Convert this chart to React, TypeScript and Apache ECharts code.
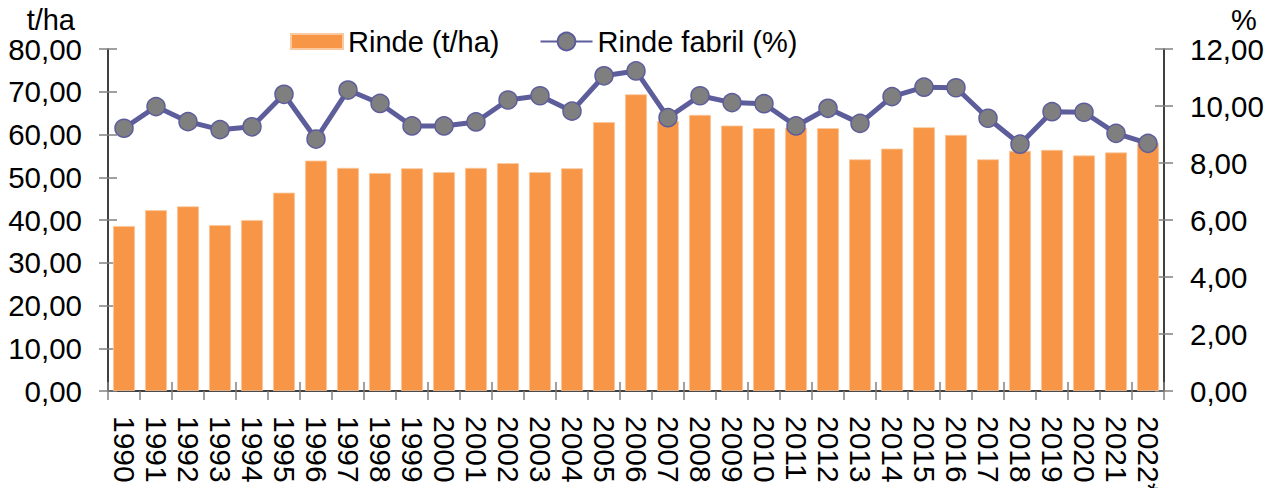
import React, { useEffect, useRef } from "react";
import * as echarts from "echarts";

const years = [
  "1990", "1991", "1992", "1993", "1994", "1995", "1996", "1997", "1998", "1999",
  "2000", "2001", "2002", "2003", "2004", "2005", "2006", "2007", "2008", "2009",
  "2010", "2011", "2012", "2013", "2014", "2015", "2016", "2017", "2018", "2019",
  "2020", "2021", "2022*",
];

const rindeTHa = [
  38.6, 42.3, 43.2, 38.8, 40.0, 46.4, 53.9, 52.2, 51.0, 52.1,
  51.2, 52.2, 53.3, 51.2, 52.1, 62.9, 69.4, 63.2, 64.6, 62.1,
  61.5, 61.6, 61.5, 54.2, 56.7, 61.7, 59.9, 54.2, 56.2, 56.4,
  55.1, 55.8, 58.0,
];

const rindeFabril = [
  9.22, 9.98, 9.45, 9.17, 9.27, 10.41, 8.84, 10.56, 10.09, 9.30,
  9.30, 9.44, 10.21, 10.36, 9.82, 11.06, 11.23, 9.59, 10.36, 10.12,
  10.08, 9.30, 9.92, 9.39, 10.33, 10.66, 10.64, 9.57, 8.66, 9.80,
  9.78, 9.04, 8.69,
];

const seriesNames = ["Rinde (t/ha)", "Rinde fabril (%)"];
const leftAxisName = "t/ha";
const rightAxisName = "%";

const FONT = "Liberation Sans, Arial, sans-serif";
const ORANGE = "#F79646";
const LINE = "#5D5D9B";
const TICK = "#808080";

const fmt = (v: number) => v.toFixed(2).replace(".", ",");

export default function App() {
  const ref = useRef<HTMLDivElement>(null);

  useEffect(() => {
    if (!ref.current) return;
    const chart = echarts.init(ref.current, undefined, { renderer: "svg" });
    const gridRect = { left: 108, right: 102, top: 49, bottom: 97, outerBoundsMode: "none", containLabel: false };
    const axisLine = { show: true, lineStyle: { color: "#000", width: 1.5 } };
    chart.setOption({
      animation: false,
      backgroundColor: "#fff",
      textStyle: { fontFamily: FONT },
      legend: {
        left: 285,
        top: 22,
        itemWidth: 52,
        itemHeight: 22,
        itemGap: 40,
        textStyle: { fontSize: 29, color: "#000", fontFamily: FONT },
        data: [
          { name: seriesNames[0], icon: "path://M0 0H52V15H0Z" },
          { name: seriesNames[1] },
        ],
      },
      grid: [
        { ...gridRect },
        { ...gridRect },
      ],
      xAxis: [
        {
          type: "category",
          gridIndex: 0,
          data: years,
          axisLine,
          axisTick: { show: true, length: 9, lineStyle: { color: TICK, width: 1.5 } },
          axisLabel: {
            rotate: -90,
            margin: 25,
            fontSize: 30,
            color: "#000",
            fontFamily: FONT,
            interval: 0,
          },
        },
        {
          type: "category",
          gridIndex: 1,
          data: years,
          axisLine: { show: false },
          axisTick: { show: true, inside: true, length: 9, lineStyle: { color: TICK, width: 1.5 } },
          axisLabel: { show: false },
        },
      ],
      yAxis: [
        {
          type: "value",
          gridIndex: 0,
          position: "left",
          min: 0,
          max: 80,
          interval: 10,
          name: leftAxisName,
          nameLocation: "end",
          nameGap: 15,
          nameTextStyle: {
            fontSize: 29,
            lineHeight: 22,
            color: "#000",
            fontFamily: FONT,
            align: "right",
            verticalAlign: "bottom",
            padding: [0, 33, 0, 0],
          },
          splitLine: { show: false },
          axisLine,
          axisTick: { show: true, length: 9, lineStyle: { color: TICK, width: 1.5 } },
          axisLabel: { margin: 26, fontSize: 29.5, lineHeight: 24, color: "#000", fontFamily: FONT, formatter: fmt },
        },
        {
          type: "value",
          gridIndex: 0,
          position: "right",
          min: 0,
          max: 12,
          interval: 2,
          name: rightAxisName,
          nameLocation: "end",
          nameGap: 15,
          nameTextStyle: {
            fontSize: 29,
            lineHeight: 22,
            color: "#000",
            fontFamily: FONT,
            align: "left",
            verticalAlign: "bottom",
            padding: [0, 0, 0, 67],
          },
          splitLine: { show: false },
          axisLine,
          axisTick: { show: true, length: 9, lineStyle: { color: TICK, width: 1.5 } },
          axisLabel: { margin: 26, fontSize: 29.5, lineHeight: 24, color: "#000", fontFamily: FONT, formatter: fmt },
        },
        {
          type: "value",
          gridIndex: 1,
          position: "left",
          min: 0,
          max: 80,
          interval: 10,
          splitLine: { show: false },
          axisLine: { show: false },
          axisTick: { show: true, inside: true, length: 9, lineStyle: { color: TICK, width: 1.5 } },
          axisLabel: { show: false },
        },
        {
          type: "value",
          gridIndex: 1,
          position: "right",
          min: 0,
          max: 12,
          interval: 2,
          splitLine: { show: false },
          axisLine: { show: false },
          axisTick: { show: true, inside: true, length: 9, lineStyle: { color: TICK, width: 1.5 } },
          axisLabel: { show: false },
        },
      ],
      series: [
        {
          name: seriesNames[0],
          type: "bar",
          xAxisIndex: 0,
          yAxisIndex: 0,
          data: rindeTHa,
          barWidth: 22,
          itemStyle: { color: ORANGE, borderColor: "#FAC9A0", borderWidth: 0.8 },
          z: 2,
        },
        {
          name: seriesNames[1],
          type: "line",
          xAxisIndex: 0,
          yAxisIndex: 1,
          data: rindeFabril,
          symbol: "circle",
          symbolSize: 18,
          lineStyle: { color: LINE, width: 5 },
          itemStyle: { color: "#7F7F7F", borderColor: LINE, borderWidth: 1.5 },
          z: 5,
        },
      ],
    });
    return () => chart.dispose();
  }, []);

  return (
    <div
      ref={ref}
      style={{ position: "fixed", left: 0, top: 0, width: "1266px", height: "488px" }}
    />
  );
}
